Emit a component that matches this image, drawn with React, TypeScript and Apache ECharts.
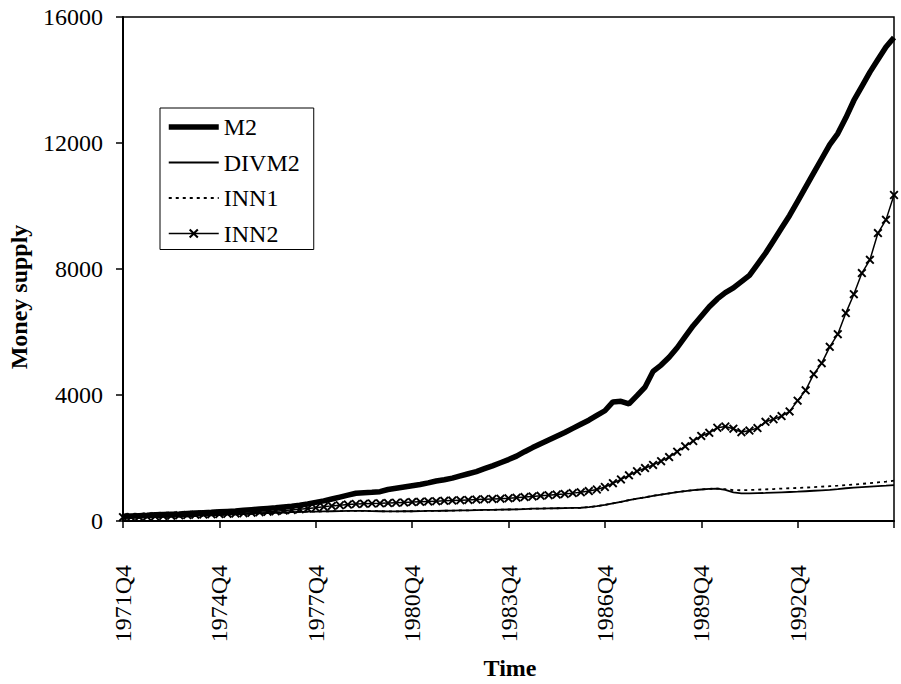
import React, { useEffect, useRef } from "react";
import * as echarts from "echarts";

// Quarterly categories 1971Q4 .. 1995Q4
const quarters: string[] = [];
{
  let y = 1971;
  let q = 4;
  while (quarters.length < 97) {
    quarters.push(`${y}Q${q}`);
    q += 1;
    if (q > 4) { q = 1; y += 1; }
  }
}

const yTicks = [0, 4000, 8000, 12000, 16000];

const M2 = [
  150, 160, 170, 180, 195, 205, 215, 225, 240, 255,
  265, 275, 290, 305, 320, 340, 360, 380, 400, 420,
  445, 470, 500, 540, 590, 640, 700, 760, 820, 880,
  900, 910, 930, 1000, 1040, 1080, 1120, 1160, 1210, 1270,
  1310, 1360, 1430, 1500, 1570, 1660, 1750, 1850, 1950, 2060,
  2200, 2330, 2450, 2570, 2690, 2810, 2940, 3070, 3200, 3350,
  3500, 3780, 3800, 3720, 3980, 4250, 4750, 4950, 5200, 5500,
  5850, 6200, 6500, 6800, 7050, 7250, 7400, 7600, 7800, 8150,
  8500, 8900, 9300, 9700, 10150, 10600, 11050, 11500, 11950, 12300,
  12800, 13350, 13800, 14250, 14650, 15050, 15350,
];

const DIVM2 = [
  100, 105, 110, 115, 120, 128, 135, 142, 150, 160,
  170, 180, 190, 200, 210, 220, 230, 240, 250, 260,
  270, 280, 290, 295, 300, 305, 310, 315, 320, 320,
  320, 315, 310, 305, 305, 310, 310, 315, 320, 320,
  325, 330, 335, 340, 345, 350, 355, 360, 365, 370,
  380, 390, 395, 400, 405, 410, 415, 420, 440, 470,
  510, 560, 610, 660, 710, 750, 800, 840, 880, 920,
  950, 980, 1000, 1020, 1030, 990, 910, 880, 880, 885,
  890, 900, 910, 920, 930, 945, 960, 975, 990, 1010,
  1040, 1060, 1075, 1090, 1105, 1120, 1140,
];

const INN1 = [
  100, 105, 110, 115, 120, 128, 135, 142, 150, 160,
  170, 180, 190, 200, 210, 220, 230, 240, 250, 260,
  270, 280, 290, 295, 300, 305, 310, 315, 320, 320,
  320, 315, 310, 305, 305, 310, 310, 315, 320, 320,
  325, 330, 335, 340, 345, 350, 355, 360, 365, 370,
  380, 390, 395, 400, 405, 410, 415, 420, 440, 470,
  510, 560, 610, 660, 710, 750, 800, 840, 880, 920,
  950, 980, 1000, 1020, 1030, 1010, 980, 975, 985, 995,
  1005, 1015, 1030, 1040, 1050, 1060, 1075, 1090, 1105, 1120,
  1140, 1160, 1180, 1200, 1225, 1250, 1280,
];

const INN2 = [
  120, 125, 130, 140, 150, 160, 170, 180, 190, 200,
  210, 215, 220, 230, 240, 250, 265, 280, 295, 310,
  330, 350, 370, 395, 420, 450, 480, 500, 520, 540,
  550, 555, 560, 570, 580, 590, 600, 610, 620, 630,
  640, 650, 660, 670, 680, 690, 700, 710, 720, 740,
  760, 780, 800, 820, 840, 860, 885, 910, 950, 1000,
  1080, 1200, 1320, 1450, 1580, 1680, 1780, 1900, 2030, 2200,
  2370, 2540, 2700, 2800, 2960, 3000, 2930, 2820, 2870, 2950,
  3150, 3230, 3330, 3480, 3820, 4150, 4660, 5010, 5530, 5930,
  6600, 7200, 7870, 8290, 9140, 9560, 10350,
];

const FONT = "'Liberation Serif', 'Times New Roman', serif";
const X_MARK =
  "path://M0,1.5 L1.5,0 L5,3.5 L8.5,0 L10,1.5 L6.5,5 L10,8.5 L8.5,10 L5,6.5 L1.5,10 L0,8.5 L3.5,5 Z";

export default function App() {
  const ref = useRef<HTMLDivElement>(null);
  useEffect(() => {
    if (!ref.current) return;
    const chart = echarts.init(ref.current, undefined, { renderer: "svg" });
    chart.setOption({
      animation: false,
      backgroundColor: "#fff",
      grid: {
        left: 123,
        right: 7,
        top: 17,
        bottom: 163,
        show: true,
        borderColor: "#000",
        borderWidth: 1.5,
        backgroundColor: "transparent",
      },
      legend: {
        orient: "vertical",
        left: 160,
        top: 108,
        padding: [7, 14, 4, 6],
        borderColor: "#000",
        borderWidth: 1,
        itemWidth: 50,
        itemHeight: 12,
        itemGap: 11.5,
        lineStyle: { width: "inherit", type: "inherit" },
        textStyle: { fontFamily: FONT, fontSize: 24, color: "#000", lineHeight: 24 },
        data: [
          { name: "M2", itemStyle: { opacity: 0 } },
          { name: "DIVM2", itemStyle: { opacity: 0 } },
          { name: "INN1", itemStyle: { opacity: 0 } },
          { name: "INN2" },
        ],
      },
      xAxis: {
        type: "category",
        data: quarters,
        boundaryGap: false,
        axisLine: { lineStyle: { color: "#000", width: 2 } },
        axisTick: {
          show: true,
          length: 7,
          interval: (i: number) => i % 12 === 0,
          lineStyle: { color: "#000", width: 1.5 },
        },
        axisLabel: {
          rotate: 90,
          margin: 44,
          interval: (i: number) => i % 12 === 0 && i < 96,
          fontFamily: FONT,
          fontSize: 24,
          color: "#000",
        },
        splitLine: { show: false },
      },
      yAxis: {
        type: "value",
        min: yTicks[0],
        max: yTicks[yTicks.length - 1],
        interval: yTicks[1] - yTicks[0],
        axisLine: { show: true, lineStyle: { color: "#000", width: 2 } },
        axisTick: { show: true, length: 7, lineStyle: { color: "#000", width: 1.5 } },
        axisLabel: {
          margin: 20,
          fontFamily: FONT,
          fontSize: 24,
          color: "#000",
          formatter: (v: number) => String(v),
        },
        splitLine: { show: false },
      },
      graphic: [
        {
          type: "text",
          x: 19,
          y: 297,
          rotation: Math.PI / 2,
          style: {
            text: "Money supply",
            fontFamily: FONT,
            fontSize: 24,
            fontWeight: "bold",
            fill: "#000",
            textAlign: "center",
            textVerticalAlign: "middle",
          },
        },
        {
          type: "text",
          x: 510,
          y: 668,
          style: {
            text: "Time",
            fontFamily: FONT,
            fontSize: 24,
            fontWeight: "bold",
            fill: "#000",
            textAlign: "center",
            textVerticalAlign: "middle",
          },
        },
      ],
      series: [
        {
          name: "M2",
          type: "line",
          data: M2,
          symbol: "none",
          lineStyle: { color: "#000", width: 5.5 },
          itemStyle: { color: "#000" },
          z: 4,
        },
        {
          name: "DIVM2",
          type: "line",
          data: DIVM2,
          symbol: "none",
          lineStyle: { color: "#000", width: 1.8 },
          itemStyle: { color: "#000" },
          z: 2,
        },
        {
          name: "INN1",
          type: "line",
          data: INN1,
          symbol: "none",
          lineStyle: { color: "#000", width: 1.8, type: [3, 4] },
          itemStyle: { color: "#000" },
          z: 3,
        },
        {
          name: "INN2",
          type: "line",
          data: INN2,
          symbol: X_MARK,
          symbolSize: 9,
          showAllSymbol: true,
          lineStyle: { color: "#000", width: 1.5 },
          itemStyle: { color: "#000" },
          z: 3,
        },
      ],
    });
    return () => chart.dispose();
  }, []);
  return (
    <div
      ref={ref}
      style={{ position: "fixed", left: 0, top: 0, width: 901, height: 684, background: "#fff" }}
    />
  );
}
